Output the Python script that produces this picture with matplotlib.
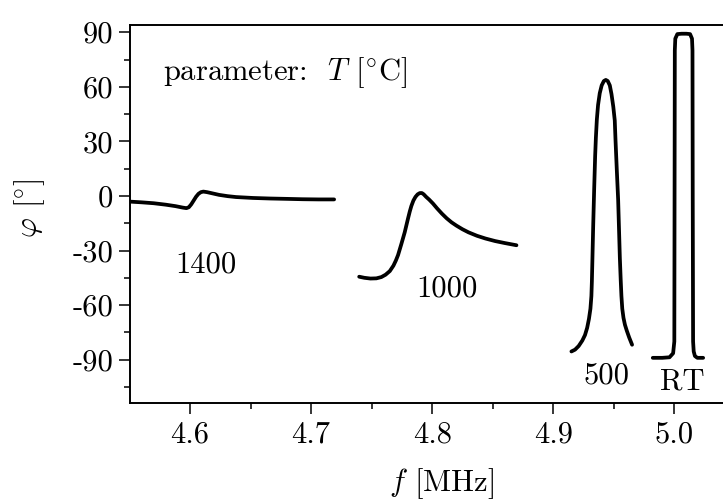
import numpy as np
import matplotlib
matplotlib.use('Agg')
import matplotlib.pyplot as plt
from matplotlib.ticker import MultipleLocator

# phase curves, one per temperature
f_1400 = [4.550, 4.560, 4.570, 4.580, 4.588, 4.594, 4.597, 4.599, 4.601, 4.603,
          4.605, 4.607, 4.609, 4.611, 4.614, 4.618, 4.624, 4.631, 4.638, 4.652,
          4.666, 4.680, 4.693, 4.706, 4.719]
phi_1400 = [-3.1, -3.5, -4.0, -4.8, -5.6, -6.4, -6.7, -6.2, -4.6, -2.5,
            -0.4, 1.2, 2.1, 2.4, 2.1, 1.5, 0.6, -0.1, -0.6, -1.1,
            -1.4, -1.6, -1.8, -1.9, -1.9]

f_1000 = [4.7397, 4.7440, 4.7490, 4.7539, 4.7580, 4.7615, 4.7650, 4.7680, 4.7700, 4.7718,
          4.7745, 4.7773, 4.7800, 4.7815, 4.7828, 4.7845, 4.7862, 4.7880, 4.7898, 4.7915,
          4.7930, 4.7950, 4.7975, 4.8007, 4.8040, 4.8080, 4.8120, 4.8160, 4.8200, 4.8250,
          4.8300, 4.8370, 4.8440, 4.8520, 4.8600, 4.8696]
phi_1000 = [-44.4, -45.0, -45.4, -45.3, -44.6, -43.3, -41.3, -38.3, -35.5, -32.5,
            -26.5, -20.0, -12.5, -8.5, -5.5, -2.5, -0.5, 0.9, 1.6, 1.6,
            0.9, -0.5, -2.0, -4.2, -6.8, -9.7, -12.3, -14.5, -16.3, -18.3,
            -20.0, -21.9, -23.4, -24.8, -25.9, -27.1]

f_500 = [4.9150, 4.9180, 4.9210, 4.9240, 4.9262, 4.9280, 4.9295, 4.9307, 4.9315, 4.9319,
         4.9323, 4.9330, 4.9338, 4.9346, 4.9352, 4.9360, 4.9370, 4.9384, 4.9400, 4.9418,
         4.9434, 4.9450, 4.9467, 4.9481, 4.9496, 4.9508, 4.9514, 4.9525, 4.9536, 4.9543,
         4.9550, 4.9557, 4.9563, 4.9570, 4.9580, 4.9592, 4.9607, 4.9627, 4.9651]
phi_500 = [-85.5, -84.5, -82.5, -79.5, -76.5, -72.5, -67.5, -62.0, -55.0, -47.0,
           -36.0, -16.0, 4.0, 22.0, 32.0, 42.0, 50.0, 56.5, 60.8, 63.2,
           63.8, 63.2, 60.8, 56.0, 49.0, 41.5, 31.0, 14.0, -2.2, -18.0,
           -34.0, -46.0, -55.0, -62.0, -67.0, -70.8, -74.0, -77.8, -81.8]

f_rt = [4.9822, 4.990, 4.996, 4.9990, 5.0000, 5.0002, 5.0004, 5.0008, 5.0025, 5.0060,
        5.0100, 5.0130, 5.0146, 5.0150, 5.0152, 5.0155, 5.0160, 5.0170, 5.0190, 5.0238]
phi_rt = [-89.0, -89.0, -88.7, -86.5, -80.0, 0.0, 80.0, 86.5, 89.0, 89.2,
          89.2, 89.0, 86.5, 80.0, 0.0, -80.0, -85.5, -88.0, -89.0, -89.0]

curves = [(f_1400, phi_1400), (f_1000, phi_1000), (f_500, phi_500), (f_rt, phi_rt)]

# curve labels: text, x, y (baseline)
labels = ['1400', '1000', '500', 'RT']
label_x = [4.6128, 4.8122, 4.9437, 5.0070]
label_y = [-42.3, -55.3, -102.9, -106.6]

yticks = [-90, -60, -30, 0, 30, 60, 90]
ytick_labels = ['-90', '-60', '-30', '0', '30', '60', '90']
xticks = [4.6, 4.7, 4.8, 4.9, 5.0]
xtick_labels = ['4.6', '4.7', '4.8', '4.9', '5.0']

plt.rcParams['font.family'] = 'serif'
plt.rcParams['font.serif'] = ['cmr10']
plt.rcParams['mathtext.fontset'] = 'cm'
plt.rcParams['axes.unicode_minus'] = False
plt.rcParams['axes.formatter.use_mathtext'] = True

fs = 22

fig = plt.figure(figsize=(7.23, 5.04), dpi=100)
ax = fig.add_axes([0.1798, 0.1998, 0.8202, 0.7506])

for f, phi in curves:
    ax.plot(f, phi, color='black', lw=2.7, solid_joinstyle='round', solid_capstyle='round')

for txt, x, y in zip(labels, label_x, label_y):
    ax.text(x, y, txt, fontsize=fs, ha='center', va='baseline')

ax.text(4.5773, 63.7, r'parameter:  $T$ $[{}^{\circ}\mathrm{C}]$', fontsize=fs,
        ha='left', va='baseline')

ax.set_xlim(4.5504, 5.0402)
ax.set_ylim(-114, 94)
ax.set_yticks(yticks)
ax.set_yticklabels(ytick_labels)
ax.set_xticks(xticks)
ax.set_xticklabels(xtick_labels)
ax.xaxis.set_minor_locator(MultipleLocator(0.05))
ax.yaxis.set_minor_locator(MultipleLocator(15))

ax.spines['right'].set_visible(False)
for s in ['left', 'bottom', 'top']:
    ax.spines[s].set_linewidth(1.4)

ax.tick_params(which='both', direction='out', top=False, right=False, width=1.1, labelsize=fs)
ax.tick_params(which='major', length=8)
ax.tick_params(which='minor', length=4.3)
ax.tick_params(axis='y', pad=4)
ax.tick_params(axis='x', pad=5)

ax.set_xlabel(r'$f$ [MHz]', fontsize=fs)
ax.set_ylabel(r'$\varphi$ $[{}^{\circ}]$', fontsize=fs)
# the original axis runs on past the cropped right edge, so place labels by hand
ax.xaxis.set_label_coords(0.526, -0.165)
ax.yaxis.set_label_coords(-0.14, 0.516)

fig.savefig('out.png', dpi=100)
